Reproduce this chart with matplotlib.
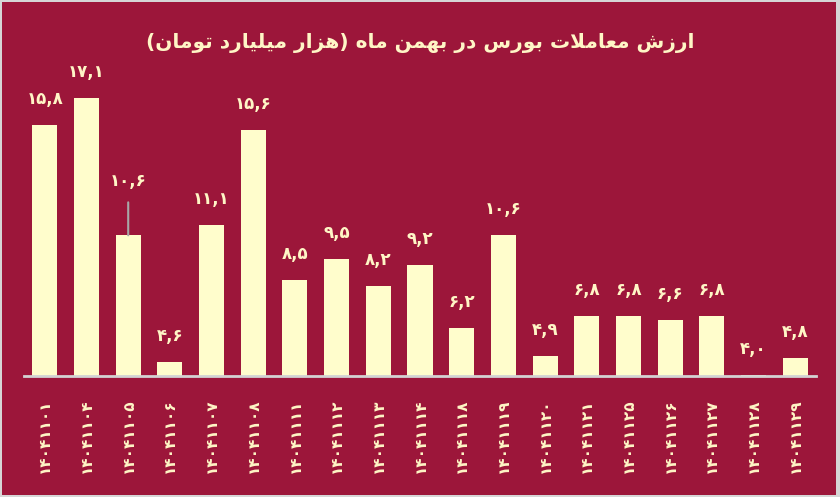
import matplotlib
matplotlib.use('Agg')
import matplotlib.pyplot as plt
from matplotlib.patches import Rectangle

# data
dates = ['۱۴۰۴۱۱۰۱', '۱۴۰۴۱۱۰۴', '۱۴۰۴۱۱۰۵', '۱۴۰۴۱۱۰۶', '۱۴۰۴۱۱۰۷', '۱۴۰۴۱۱۰۸',
         '۱۴۰۴۱۱۱۱', '۱۴۰۴۱۱۱۲', '۱۴۰۴۱۱۱۳', '۱۴۰۴۱۱۱۴', '۱۴۰۴۱۱۱۸', '۱۴۰۴۱۱۱۹',
         '۱۴۰۴۱۱۲۰', '۱۴۰۴۱۱۲۱', '۱۴۰۴۱۱۲۵', '۱۴۰۴۱۱۲۶', '۱۴۰۴۱۱۲۷', '۱۴۰۴۱۱۲۸',
         '۱۴۰۴۱۱۲۹']
values = [15.8, 17.1, 10.6, 4.6, 11.1, 15.6, 8.5, 9.5, 8.2, 9.2, 6.2, 10.6,
          4.9, 6.8, 6.8, 6.6, 6.8, 4.0, 4.8]
title = 'ارزش معاملات بورس در بهمن ماه (هزار میلیارد تومان)'

BG = '#9C163A'
CREAM = '#FFFDCC'
TEXT = '#FFF6C6'

# minimal arabic/persian shaping (no reshaper lib available)
FORMS = {
    'ا': ('\uFE8D', '\uFE8E', None, None),
    'ر': ('\uFEAD', '\uFEAE', None, None),
    'ز': ('\uFEAF', '\uFEB0', None, None),
    'د': ('\uFEA9', '\uFEAA', None, None),
    'و': ('\uFEED', '\uFEEE', None, None),
    'ﻻ': ('\uFEFB', '\uFEFC', None, None),
    'ش': ('\uFEB5', '\uFEB6', '\uFEB7', '\uFEB8'),
    'س': ('\uFEB1', '\uFEB2', '\uFEB3', '\uFEB4'),
    'م': ('\uFEE1', '\uFEE2', '\uFEE3', '\uFEE4'),
    'ع': ('\uFEC9', '\uFECA', '\uFECB', '\uFECC'),
    'ل': ('\uFEDD', '\uFEDE', '\uFEDF', '\uFEE0'),
    'ت': ('\uFE95', '\uFE96', '\uFE97', '\uFE98'),
    'ب': ('\uFE8F', '\uFE90', '\uFE91', '\uFE92'),
    'ه': ('\uFEE9', '\uFEEA', '\uFEEB', '\uFEEC'),
    'ن': ('\uFEE5', '\uFEE6', '\uFEE7', '\uFEE8'),
    'ی': ('\uFBFC', '\uFBFD', '\uFBFE', '\uFBFF'),
}


def shape(s):
    s = s.replace('لا', 'ﻻ')
    out = []
    for i, c in enumerate(s):
        if c not in FORMS:
            out.append(c)
            continue
        prev = s[i - 1] if i > 0 else ''
        nxt = s[i + 1] if i < len(s) - 1 else ''
        join_prev = prev in FORMS and FORMS[prev][2] is not None
        join_next = FORMS[c][2] is not None and nxt in FORMS
        iso, fin, ini, med = FORMS[c]
        if join_prev and join_next:
            out.append(med)
        elif join_prev:
            out.append(fin)
        elif join_next:
            out.append(ini)
        else:
            out.append(iso)
    mirror = {'(': ')', ')': '('}
    return ''.join(mirror.get(c, c) for c in reversed(out))


def fa_num(v):
    s = f'{v:.1f}'.replace('.', ',')
    return s.translate(str.maketrans('0123456789', '۰۱۲۳۴۵۶۷۸۹'))


fig = plt.figure(figsize=(8.4, 4.97), dpi=100)
fig.patch.set_facecolor('#D6D6D6')
fig.add_artist(Rectangle((2 / 840, 2 / 497), 834 / 840, 493 / 497,
                         transform=fig.transFigure, facecolor=BG, edgecolor='none', zorder=-5))

ax = fig.add_axes([24 / 840, 121 / 497, 792 / 840, 297 / 497])
ax.set_facecolor('none')
x = list(range(len(values)))

ax.bar(x, values, width=0.6, color=CREAM, zorder=2)
ax.set_xlim(-0.5, len(values) - 0.5)
ax.set_ylim(3.94, 18.0)

# the third label was dragged up in the original, with a leader line
label_lift = {2: 54}
for i, v in enumerate(values):
    lift = label_lift.get(i, 26)
    ax.annotate(fa_num(v), (i, v), xytext=(0, lift), textcoords='offset pixels',
                ha='center', va='center', fontsize=12, weight='bold', color=TEXT, zorder=3)
    if i in label_lift:
        ax.annotate('', (i, v), xytext=(0, lift - 21), textcoords='offset pixels',
                    arrowprops=dict(arrowstyle='-', color='#A8A8A8', lw=1.5,
                                    shrinkA=0, shrinkB=0))

for side in ['top', 'right', 'left']:
    ax.spines[side].set_visible(False)
ax.spines['bottom'].set_color('#D3D3D3')
ax.spines['bottom'].set_linewidth(2)
ax.spines['bottom'].set_zorder(4)
ax.set_yticks([])
ax.set_xticks(x, dates, rotation=90, fontsize=11, weight='bold', color=TEXT)
ax.tick_params(axis='x', length=0, pad=16)

fig.text(0.5, 1 - 43 / 497, shape(title), ha='center', va='center',
         fontsize=14.5, weight='bold', color=TEXT)

fig.savefig('out.png', dpi=100, facecolor=fig.get_facecolor())
